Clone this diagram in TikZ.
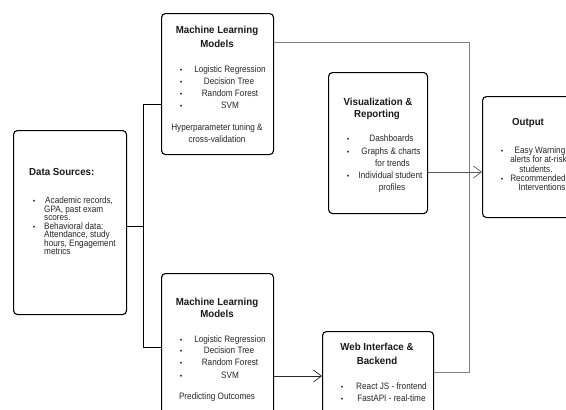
\documentclass[tikz,border=0pt]{standalone}
\usepackage{fontspec}
\setmainfont{Liberation Sans}
\newfontfamily\bodyfont[FakeStretch=0.88]{Liberation Sans}
\newfontfamily\titlefont[FakeStretch=0.95]{Liberation Sans}
\usetikzlibrary{arrows.meta}
\begin{document}
\begin{tikzpicture}[x=1pt,y=-1pt,
  box/.style={draw=black, line width=1.1pt, rounded corners=4pt, inner sep=0pt, anchor=north west},
  ttl/.style={font=\titlefont\bfseries\fontsize{10.2}{11}\selectfont, inner sep=0pt, anchor=mid, text=black!90},
  ttlw/.style={ttl, anchor=mid west},
  txt/.style={font=\bodyfont\fontsize{9.3}{9}\selectfont, inner sep=0pt, anchor=mid, text=black!85},
  txtw/.style={txt, anchor=mid west},
  bul/.style={font=\fontsize{7}{8}\selectfont, inner sep=0pt, anchor=mid, text=black!85},
  conn/.style={draw=black, line width=0.9pt},
  gconn/.style={draw=black!50, line width=0.9pt},
  arr/.style={line width=0.8pt, -{Straight Barb[length=8pt,width=12pt,line width=0.7pt]}}
]
\useasboundingbox (0,0) rectangle (566,410);
\fill[white] (0,0) rectangle (566,410);
\clip (0,0) rectangle (566,410);

% boxes
\node[box, minimum width=113, minimum height=184] (ds) at (13,130) {};
\node[box, minimum width=112, minimum height=141] (ml1) at (161,13) {};
\node[box, minimum width=112, minimum height=160] (ml2) at (161,273) {};
\node[box, minimum width=99, minimum height=141] (vis) at (328,72) {};
\node[box, minimum width=111, minimum height=100] (web) at (322,331) {};
\node[box, minimum width=130, minimum height=121] (out) at (482,96) {};

% connectors
\coordinate (j) at (143,226);
\coordinate (t1) at (143,104);
\coordinate (t2) at (143,347);
\draw[conn] (ds.east |- j) -- (j);
\draw[conn] (ml1.west |- t1) -- (t1) -- (t2) -- (ml2.west |- t2);
\coordinate (g1) at (469,42);
\coordinate (g2) at (469,372);
\draw[gconn] (ml1.east |- g1) -- (g1) -- (g2) -- (web.east |- g2);
\coordinate (a1) at (300,376);
\draw[arr, black!85] (ml2.east |- a1) -- (web.west |- a1);
\coordinate (a2) at (450,172);
\draw[arr, black!65] (vis.east |- a2) -- (out.west |- a2);

% Data Sources
\node[ttlw] (dsT) at (29,173) {Data Sources:};
\node[bul] (dsb1) at (34,201) {•};
\node[bul] (dsb2) at (34,226.5) {•};
\node[txtw] (ds1) at (45,201) {Academic records,};
\node[txtw] (ds2) at (44,209.5) {GPA, past exam};
\node[txtw] (ds3) at (44,218) {scores.};
\node[txtw] (ds4) at (44,226.5) {Behavioral data:};
\node[txtw] (ds5) at (44,235) {Attendance, study};
\node[txtw] (ds6) at (44,243.5) {hours, Engagement};
\node[txtw] (ds7) at (44,252) {metrics};

% ML top
\node[ttl] (m1T1) at (217,31) {Machine Learning};
\node[ttl] (m1T2) at (217,45) {Models};
\node[bul] (m1b1) at (181,70) {•};
\node[bul] (m1b2) at (181,81.5) {•};
\node[bul] (m1b3) at (181,93.5) {•};
\node[bul] (m1b4) at (181,106) {•};
\node[txt] (m1i1) at (230,70) {Logistic Regression};
\node[txt] (m1i2) at (229,81.5) {Decision Tree};
\node[txt] (m1i3) at (230,93.5) {Random Forest};
\node[txt] (m1i4) at (230,106) {SVM};
\node[txt] (m1n1) at (217,128) {Hyperparameter tuning \&};
\node[txt] (m1n2) at (217,140) {cross-validation};

% ML bottom
\node[ttl] (m2T1) at (217,303) {Machine Learning};
\node[ttl] (m2T2) at (217,315) {Models};
\node[bul] (m2b1) at (181,340) {•};
\node[bul] (m2b2) at (181,351) {•};
\node[bul] (m2b3) at (181,363) {•};
\node[bul] (m2b4) at (181,376) {•};
\node[txt] (m2i1) at (230,340) {Logistic Regression};
\node[txt] (m2i2) at (229,351) {Decision Tree};
\node[txt] (m2i3) at (230,363) {Random Forest};
\node[txt] (m2i4) at (230,376) {SVM};
\node[txt] (m2n1) at (217,397) {Predicting Outcomes};

% Visualization
\node[ttl] (vT1) at (378,103) {Visualization \&};
\node[ttl] (vT2) at (377,114.5) {Reporting};
\node[bul] (vb1) at (348,139) {•};
\node[bul] (vb2) at (348,152) {•};
\node[bul] (vb3) at (348,176) {•};
\node[txt] (vi1) at (391.5,139) {Dashboards};
\node[txt] (vi2) at (391,152) {Graphs \& charts};
\node[txt] (vi3) at (392.5,163.5) {for trends};
\node[txt] (vi4) at (390.5,176) {Individual student};
\node[txt] (vi5) at (392,188) {profiles};

% Web
\node[ttl] (wT1) at (377,348) {Web Interface \&};
\node[ttl] (wT2) at (377,362) {Backend};
\node[bul] (wb1) at (342,387) {•};
\node[bul] (wb2) at (342,399) {•};
\node[txt] (wi1) at (391.5,387) {React JS - frontend};
\node[txt] (wi2) at (391.5,399) {FastAPI - real-time};

% Output
\node[ttlw] (oT) at (512,123) {Output};
\node[bul] (ob1) at (502,151) {•};
\node[bul] (ob2) at (502,179) {•};
\node[txt] (oi1) at (540,151) {Easy Warning};
\node[txt] (oi2) at (538.5,160) {alerts for at-risk};
\node[txt] (oi3) at (536,169.5) {students.};
\node[txt] (oi4) at (538,179) {Recommended};
\node[txt] (oi5) at (542,188) {Interventions};
\end{tikzpicture}
\end{document}
